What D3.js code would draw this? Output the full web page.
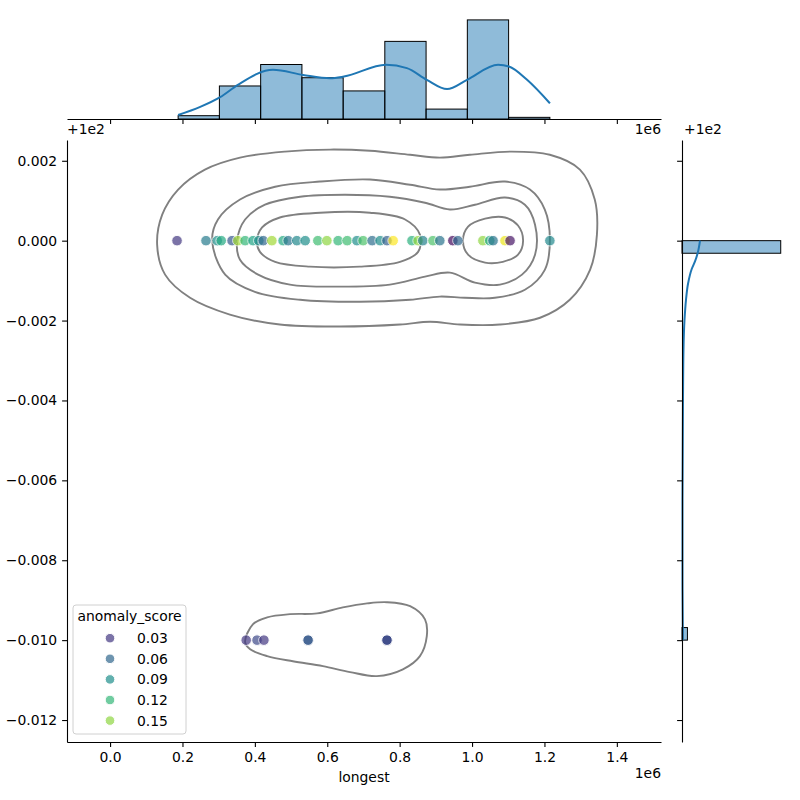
<!DOCTYPE html>
<html>
<head>
<meta charset="utf-8">
<script src="https://cdn.jsdelivr.net/npm/d3@7"></script>
<style>
  body { margin: 0; background: #fff; }
  text { font-family: "DejaVu Sans", sans-serif; font-size: 13.9px; fill: #000; }
</style>
</head>
<body>
<div id="chart"></div>
<script>
// ---- data (x in units of 1e6, y as offset from 1e2) ----
const pointX = [0.185, 0.265, 0.296, 0.307, 0.337, 0.353, 0.373, 0.395, 0.411, 0.423,
                0.447, 0.478, 0.492, 0.516, 0.539, 0.574, 0.599, 0.630, 0.655, 0.682,
                0.699, 0.724, 0.746, 0.765, 0.782, 0.834, 0.851, 0.864, 0.892, 0.911,
                0.947, 0.961, 1.030, 1.049, 1.058, 1.091, 1.105, 1.215,
                0.376, 0.406, 0.425, 0.547, 0.547, 0.765, 0.765, 0.765];
const pointY = [0, 0, 0, 0, 0, 0, 0, 0, 0, 0,
                0, 0, 0, 0, 0, 0, 0, 0, 0, 0,
                0, 0, 0, 0, 0, 0, 0, 0, 0, 0,
                0, 0, 0, 0, 0, 0, 0, 0,
                -0.01, -0.01, -0.01, -0.01, -0.01, -0.01, -0.01, -0.01];
const pointScore = [0.03, 0.075, 0.09, 0.11, 0.05, 0.155, 0.12, 0.105, 0.09, 0.06,
                    0.155, 0.11, 0.07, 0.085, 0.09, 0.125, 0.15, 0.12, 0.125, 0.09,
                    0.13, 0.065, 0.09, 0.055, 0.18, 0.115, 0.15, 0.08, 0.13, 0.07,
                    0.005, 0.06, 0.15, 0.11, 0.07, 0.175, 0.01, 0.085,
                    0.03, 0.04, 0.03, 0.05, 0.05, 0.04, 0.045, 0.04];

const legendScores = [0.03, 0.06, 0.09, 0.12, 0.15];

// top marginal histogram
const xBinEdges = [0.188, 0.302, 0.416, 0.530, 0.644, 0.759, 0.873, 0.987, 1.101, 1.215];
const xBinCounts = [2, 20, 33, 25, 17, 47, 6, 60, 1];
const xKdeAt = [0.188, 0.249, 0.304, 0.353, 0.450, 0.533, 0.608, 0.646, 0.762, 0.820,
                0.875, 0.931, 0.986, 1.072, 1.102, 1.152, 1.215];
const xKdeVal = [2.4, 7.3, 13.2, 20.7, 29.8, 26.7, 24.7, 25.7, 32.8, 30.8,
                 23.7, 18.1, 23.7, 32.8, 31.8, 23.7, 9.5];

// right marginal histogram
const yBinLo = [-0.01, -0.000315];
const yBinHi = [-0.009685, 0];
const yBinCounts = [11, 200];
const yKdeAt = [-0.01, -0.00948, -0.00848, -0.00648, -0.00398, -0.00273, -0.00198,
                -0.00148, -0.00108, -0.00071, -0.00052, -0.00031, 0];
const yKdeVal = [1.8, 1.5, 1.0, 1.0, 2.0, 3.0, 5.1, 8.1, 12.2, 19.7, 26.3, 31.8, 36.5];

// density contour outlines
const contourOuter = [[0.130, -0.0001], [0.144, 0.00065], [0.188, 0.00128], [0.262, 0.00178],
  [0.359, 0.00208], [0.483, 0.00223], [0.608, 0.00228], [0.718, 0.00225], [0.829, 0.00215],
  [0.911, 0.00208], [0.994, 0.00215], [1.105, 0.00223], [1.215, 0.00215], [1.298, 0.00178],
  [1.339, 0.00103], [1.345, 0.00015], [1.326, -0.00073], [1.270, -0.00148], [1.188, -0.00193],
  [1.077, -0.0021], [0.967, -0.0021], [0.884, -0.00203], [0.801, -0.0021], [0.635, -0.00215],
  [0.469, -0.0021], [0.331, -0.00185], [0.221, -0.00143], [0.152, -0.00085]];
const contourMid = [[0.282, 0], [0.298, 0.00053], [0.359, 0.00103], [0.456, 0.00135],
  [0.580, 0.00148], [0.718, 0.00153], [0.829, 0.0014], [0.911, 0.00128], [0.994, 0.00135],
  [1.091, 0.00148], [1.160, 0.00128], [1.201, 0.00078], [1.215, 0.00003], [1.201, -0.00073],
  [1.146, -0.00123], [1.063, -0.00143], [0.980, -0.00143], [0.911, -0.0014], [0.829, -0.00148],
  [0.690, -0.00153], [0.525, -0.00148], [0.400, -0.00128], [0.318, -0.00085]];
const contourInner = [[0.351, 0], [0.373, 0.00053], [0.428, 0.0009], [0.525, 0.0011],
  [0.649, 0.00115], [0.773, 0.0011], [0.870, 0.00095], [0.939, 0.00078], [1.008, 0.0009],
  [1.091, 0.00108], [1.146, 0.0009], [1.174, 0.0004], [1.174, -0.00035], [1.138, -0.00085],
  [1.077, -0.0011], [1.008, -0.00105], [0.939, -0.0008], [0.870, -0.0009], [0.773, -0.0011],
  [0.635, -0.00115], [0.497, -0.0011], [0.409, -0.00085], [0.359, -0.00048]];
const contourCoreLeft = [[0.406, 0], [0.420, 0.00033], [0.469, 0.00058], [0.580, 0.0007],
  [0.718, 0.0007], [0.815, 0.00053], [0.856, 0.00015], [0.851, -0.00028], [0.801, -0.00053],
  [0.690, -0.00065], [0.552, -0.00065], [0.456, -0.00053], [0.414, -0.00028]];
const contourCoreRight = [[0.975, 0], [0.989, 0.00035], [1.036, 0.00055], [1.091, 0.00058],
  [1.127, 0.00038], [1.141, 0], [1.127, -0.00035], [1.085, -0.00053], [1.036, -0.00055],
  [0.989, -0.00035]];
const contourLow = [[0.373, -0.01005], [0.395, -0.0096], [0.434, -0.00943], [0.497, -0.00935],
  [0.572, -0.00933], [0.643, -0.00918], [0.710, -0.00908], [0.765, -0.00905], [0.829, -0.00915],
  [0.870, -0.00948], [0.875, -0.0099], [0.856, -0.0104], [0.809, -0.01073], [0.737, -0.0109],
  [0.663, -0.0108], [0.588, -0.01065], [0.505, -0.01053], [0.434, -0.0104], [0.387, -0.01023]];

const xTicks = [0, 0.2, 0.4, 0.6, 0.8, 1.0, 1.2, 1.4];
const yTicks = [0.002, 0, -0.002, -0.004, -0.006, -0.008, -0.010, -0.012];

// ---- layout ----
const width = 800, height = 800;
const plot = { left: 67, right: 661, top: 140, bottom: 742 };
const topBase = 119;
const rightBase = 682;
const histFill = "rgba(31,119,180,0.5)";
const kdeColor = "#1f77b4";

const svg = d3.select("#chart").append("svg")
    .attr("width", width)
    .attr("height", height);

const x = d3.scaleLinear().domain([-0.119, 1.522]).range([plot.left, plot.right]);
const y = d3.scaleLinear().domain([-0.01255, 0.00252]).range([plot.bottom, plot.top]);
const countTop = d3.scaleLinear().domain([0, 66]).range([topBase, 10]);
const countRight = d3.scaleLinear().domain([0, 220]).range([rightBase, 790.6]);
const color = d3.scaleSequential(d3.interpolateViridis).domain([0, 0.18]);

// ---- contours ----
const contourLine = d3.line()
    .x(d => x(d[0]))
    .y(d => y(d[1]))
    .curve(d3.curveCatmullRomClosed.alpha(0.5));

svg.append("g")
    .selectAll("path")
    .data([contourOuter, contourMid, contourInner, contourCoreLeft, contourCoreRight, contourLow])
    .join("path")
    .attr("d", contourLine)
    .attr("fill", "none")
    .attr("stroke", "#808080")
    .attr("stroke-width", 1.9);

// ---- scatter ----
const points = pointX.map((v, i) => ({ x: v, y: pointY[i], s: pointScore[i] }));
svg.append("g")
    .selectAll("circle")
    .data(points)
    .join("circle")
    .attr("cx", d => x(d.x))
    .attr("cy", d => y(d.y))
    .attr("r", 5.3)
    .attr("fill", d => color(d.s))
    .attr("stroke", "#fff")
    .attr("stroke-width", 1)
    .attr("opacity", 0.7);

// ---- main axes ----
const xAxis = svg.append("g")
    .attr("transform", `translate(0,${plot.bottom})`)
    .call(d3.axisBottom(x).tickValues(xTicks).tickFormat(d3.format(".1f"))
        .tickSize(4.9).tickPadding(5).tickSizeOuter(0));
const yAxis = svg.append("g")
    .attr("transform", `translate(${plot.left},0)`)
    .call(d3.axisLeft(y).tickValues(yTicks).tickFormat(d3.format(".3f"))
        .tickSize(4.9).tickPadding(4.9).tickSizeOuter(0));

[xAxis, yAxis].forEach(g => {
    g.selectAll("text").attr("font-size", null).attr("font-family", null).attr("fill", "#000");
    g.selectAll("path, line").attr("stroke", "#000").attr("stroke-width", 1.1);
});

svg.append("text")
    .attr("x", (plot.left + plot.right) / 2)
    .attr("y", 782)
    .attr("text-anchor", "middle")
    .text("longest");
svg.append("text")
    .attr("x", plot.right)
    .attr("y", 778)
    .attr("text-anchor", "end")
    .text("1e6");
svg.append("text")
    .attr("x", plot.left)
    .attr("y", 134)
    .text("+1e2");
// y label sits mostly outside the figure, as in the original
svg.append("text")
    .attr("transform", `translate(-2,${(plot.top + plot.bottom) / 2}) rotate(-90)`)
    .attr("text-anchor", "middle")
    .text("shortest");

// ---- top marginal ----
const topG = svg.append("g");
topG.selectAll("rect")
    .data(xBinCounts)
    .join("rect")
    .attr("x", (d, i) => x(xBinEdges[i]))
    .attr("width", (d, i) => x(xBinEdges[i + 1]) - x(xBinEdges[i]))
    .attr("y", d => countTop(d))
    .attr("height", d => topBase - countTop(d))
    .attr("fill", histFill)
    .attr("stroke", "#000")
    .attr("stroke-width", 1);

topG.append("path")
    .datum(xKdeAt.map((v, i) => [v, xKdeVal[i]]))
    .attr("d", d3.line().x(d => x(d[0])).y(d => countTop(d[1])).curve(d3.curveMonotoneX))
    .attr("fill", "none")
    .attr("stroke", kdeColor)
    .attr("stroke-width", 2);

const topAxis = topG.append("g")
    .attr("transform", `translate(0,${topBase})`)
    .call(d3.axisBottom(x).tickValues(xTicks).tickFormat("").tickSize(4.9).tickSizeOuter(0));
topAxis.selectAll("path, line").attr("stroke", "#000").attr("stroke-width", 1.1);

svg.append("text")
    .attr("x", plot.right)
    .attr("y", 134)
    .attr("text-anchor", "end")
    .text("1e6");

// ---- right marginal ----
const rightG = svg.append("g");
rightG.selectAll("rect")
    .data(yBinCounts)
    .join("rect")
    .attr("x", rightBase)
    .attr("y", (d, i) => y(yBinHi[i]))
    .attr("width", d => countRight(d) - rightBase)
    .attr("height", (d, i) => y(yBinLo[i]) - y(yBinHi[i]))
    .attr("fill", histFill)
    .attr("stroke", "#000")
    .attr("stroke-width", 1);

rightG.append("path")
    .datum(yKdeAt.map((v, i) => [v, yKdeVal[i]]))
    .attr("d", d3.line().x(d => countRight(d[1])).y(d => y(d[0])).curve(d3.curveMonotoneY))
    .attr("fill", "none")
    .attr("stroke", kdeColor)
    .attr("stroke-width", 2);

const rightAxis = rightG.append("g")
    .attr("transform", `translate(${rightBase},0)`)
    .call(d3.axisLeft(y).tickValues(yTicks).tickFormat("").tickSize(4.9).tickSizeOuter(0));
rightAxis.selectAll("path, line").attr("stroke", "#000").attr("stroke-width", 1.1);

svg.append("text")
    .attr("x", rightBase + 2)
    .attr("y", 134)
    .text("+1e2");

// ---- legend ----
const legend = svg.append("g").attr("transform", "translate(73,605)");
legend.append("rect")
    .attr("width", 113)
    .attr("height", 129)
    .attr("rx", 3)
    .attr("fill", "rgba(255,255,255,0.8)")
    .attr("stroke", "#d0d0d0");
legend.append("text")
    .attr("x", 56.5)
    .attr("y", 16)
    .attr("text-anchor", "middle")
    .text("anomaly_score");
const items = legend.selectAll("g.item")
    .data(legendScores)
    .join("g")
    .attr("class", "item")
    .attr("transform", (d, i) => `translate(0,${33.2 + i * 20.6})`);
items.append("circle")
    .attr("cx", 37)
    .attr("r", 4.8)
    .attr("fill", d => color(d))
    .attr("stroke", "#fff")
    .attr("stroke-width", 1)
    .attr("opacity", 0.7);
items.append("text")
    .attr("x", 64)
    .attr("y", 5)
    .text(d => d.toFixed(2));
</script>
</body>
</html>
